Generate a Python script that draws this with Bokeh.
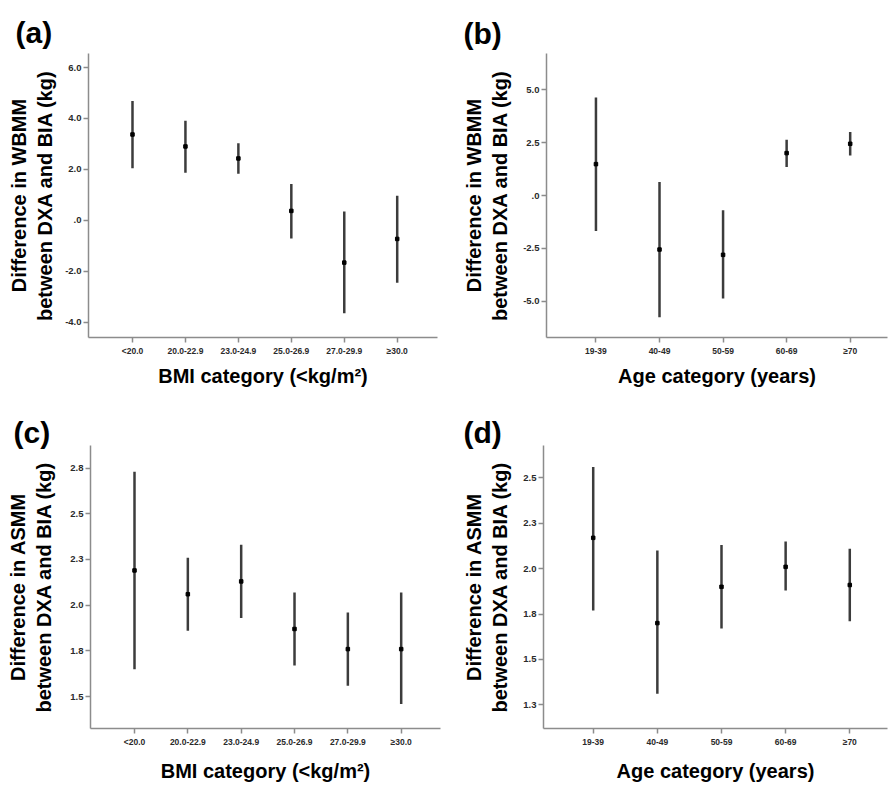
from bokeh.plotting import figure
from bokeh.layouts import column, row
from bokeh.models import FixedTicker, Range1d, Title
from bokeh.embed import file_html
from bokeh.resources import INLINE

# ---------------- data ----------------
bmi_categories = ["<20.0", "20.0-22.9", "23.0-24.9", "25.0-26.9", "27.0-29.9", "\u226530.0"]
age_categories = ["19-39", "40-49", "50-59", "60-69", "\u226570"]

# (a) WBMM difference by BMI category
a_mean = [3.37, 2.90, 2.43, 0.37, -1.66, -0.73]
a_low = [2.04, 1.87, 1.83, -0.71, -3.65, -2.45]
a_high = [4.69, 3.91, 3.03, 1.43, 0.35, 0.97]

# (b) WBMM difference by age category
b_mean = [1.48, -2.55, -2.80, 2.00, 2.44]
b_low = [-1.67, -5.75, -4.86, 1.34, 1.89]
b_high = [4.62, 0.64, -0.70, 2.63, 3.00]

# (c) ASMM difference by BMI category
c_mean = [2.19, 2.06, 2.13, 1.87, 1.76, 1.76]
c_low = [1.65, 1.86, 1.93, 1.67, 1.56, 1.46]
c_high = [2.73, 2.26, 2.33, 2.07, 1.96, 2.07]

# (d) ASMM difference by age category
d_mean = [2.17, 1.70, 1.90, 2.01, 1.91]
d_low = [1.77, 1.31, 1.67, 1.88, 1.71]
d_high = [2.56, 2.10, 2.13, 2.15, 2.11]

# y tick values and their printed labels
a_yticks = [-4.0, -2.0, 0.0, 2.0, 4.0, 6.0]
a_ylabels = ["-4.0", "-2.0", ".0", "2.0", "4.0", "6.0"]
b_yticks = [-5.0, -2.5, 0.0, 2.5, 5.0]
b_ylabels = ["-5.0", "-2.5", ".0", "2.5", "5.0"]
c_yticks = [1.5, 1.75, 2.0, 2.25, 2.5, 2.75]
c_ylabels = ["1.5", "1.8", "2.0", "2.3", "2.5", "2.8"]
d_yticks = [1.25, 1.5, 1.75, 2.0, 2.25, 2.5]
d_ylabels = ["1.3", "1.5", "1.8", "2.0", "2.3", "2.5"]

WBMM_LABEL = "Difference in WBMM\nbetween DXA and BIA (kg)"
ASMM_LABEL = "Difference in ASMM\nbetween DXA and BIA (kg)"
BMI_XLABEL = "BMI category (<kg/m\u00b2)"
AGE_XLABEL = "Age category (years)"

FONT = "Liberation Sans"
AXIS_COLOR = "#8c8c8c"
BAR_COLOR = "#3c3c3c"


def make_panel(tag, cats, mean, low, high, yticks, ylabels, yr, xr,
               ylabel, xlabel, left, right, top, bottom,
               ylab_standoff, xlab_standoff, tag_offset, tag_standoff):
    p = figure(width=444, height=392,
               min_border_left=left, min_border_right=right,
               min_border_top=top, min_border_bottom=bottom,
               x_range=Range1d(*xr), y_range=Range1d(*yr),
               output_backend="svg", toolbar_location=None,
               background_fill_color="white", border_fill_color="white")
    p.outline_line_color = None
    p.grid.visible = False

    xs = list(range(1, len(cats) + 1))
    p.segment(x0=xs, y0=low, x1=xs, y1=high, line_color=BAR_COLOR, line_width=2.5)
    p.scatter(x=xs, y=mean, marker="square", size=3.5, fill_color="black", line_color="black")

    xa = p.xaxis[0]
    xa.ticker = FixedTicker(ticks=xs)
    xa.major_label_overrides = {x: c for x, c in zip(xs, cats)}
    ya = p.yaxis[0]
    ya.ticker = FixedTicker(ticks=yticks)
    ya.major_label_overrides = {t: l for t, l in zip(yticks, ylabels)}

    for ax in (xa, ya):
        ax.axis_line_color = AXIS_COLOR
        ax.axis_line_width = 1.5
        ax.major_tick_line_color = AXIS_COLOR
        ax.major_tick_line_width = 1.5
        ax.major_tick_out = 5
        ax.major_tick_in = 0
        ax.minor_tick_line_color = None
        ax.major_label_text_font = FONT
        ax.major_label_text_font_style = "bold"
        ax.major_label_text_color = "#2a2a2a"
        ax.axis_label_text_font = FONT
        ax.axis_label_text_font_style = "bold"
        ax.axis_label_text_font_size = "20px"
        ax.axis_label_text_color = "black"

    xa.major_label_text_font_size = "8.5px"
    ya.major_label_text_font_size = "9.5px"
    ya.major_label_standoff = 2
    ya.axis_label = ylabel
    ya.axis_label_standoff = ylab_standoff
    xa.major_label_standoff = 3
    xa.axis_label = xlabel
    xa.axis_label_standoff = xlab_standoff

    t = Title(text=tag, text_font=FONT, text_font_size="30px", text_font_style="bold",
              text_color="black", align="left", offset=tag_offset, standoff=tag_standoff)
    p.add_layout(t, "above")
    return p


pa = make_panel("(a)", bmi_categories, a_mean, a_low, a_high, a_yticks, a_ylabels,
                (-4.6, 6.55), (0.169, 6.761), WBMM_LABEL, BMI_XLABEL,
                88, 7, 53, 55, 6, 6, -73, 9)
pb = make_panel("(b)", age_categories, b_mean, b_low, b_high, b_yticks, b_ylabels,
                (-6.7, 6.7), (0.222, 5.587), WBMM_LABEL, AGE_XLABEL,
                102, 1, 52, 55, 9, 6, -83, 8)
pc = make_panel("(c)", bmi_categories, c_mean, c_low, c_high, c_yticks, c_ylabels,
                (1.326, 2.873), (0.175, 6.737), ASMM_LABEL, BMI_XLABEL,
                90, 4, 53, 55, 12, 10, -77, -7)
pd_ = make_panel("(d)", age_categories, d_mean, d_low, d_high, d_yticks, d_ylabels,
                 (1.119, 2.679), (0.225, 5.588), ASMM_LABEL, AGE_XLABEL,
                 99, 1, 53, 55, 9, 10, -80, -6)

layout = column(row(pa, pb, spacing=0), row(pc, pd_, spacing=0), spacing=0)

open("out.html", "w").write(file_html(layout, INLINE))
